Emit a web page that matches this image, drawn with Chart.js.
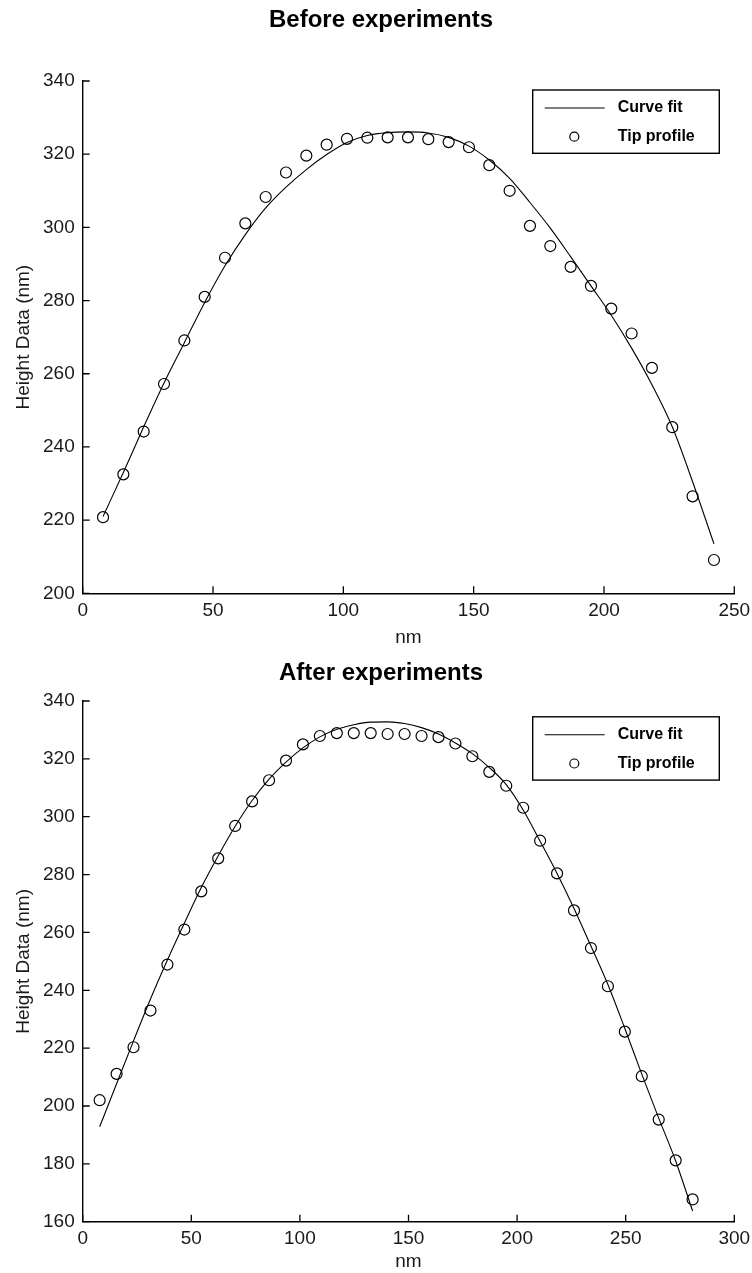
<!DOCTYPE html>
<html>
<head>
<meta charset="utf-8">
<script src="https://cdn.jsdelivr.net/npm/chart.js"></script>
<style>
  html, body { margin: 0; padding: 0; background: #fff; }
  #caja1 { position: absolute; left: 0; top: 0; width: 752px; height: 650px; }
  #caja2 { position: absolute; left: 0; top: 650px; width: 752px; height: 623px; }
</style>
</head>
<body>
<div id="caja1"><canvas id="graficoAntes"></canvas></div>
<div id="caja2"><canvas id="graficoDespues"></canvas></div>
<script>
// --- Before experiments ---
var xPuntosAntes = [7.8, 15.6, 23.4, 31.2, 39.0, 46.8, 54.6, 62.4, 70.2, 78.0, 85.8, 93.6, 101.4, 109.2, 117.0, 124.8,
                    132.6, 140.4, 148.2, 156.0, 163.8, 171.6, 179.4, 187.2, 195.0, 202.8, 210.6, 218.4, 226.2, 234.0, 242.2]
var puntosAntes = [220.8, 232.5, 244.2, 257.2, 269.1, 281.0, 291.7, 301.1, 308.3, 315.0, 319.6, 322.6, 324.2, 324.5, 324.6, 324.6,
                   324.1, 323.3, 321.9, 317.0, 310.0, 300.4, 294.9, 289.2, 284.0, 277.8, 271.0, 261.6, 245.4, 226.5, 209.1]
var xAjusteAntes = [7.8, 15.6, 23.4, 31.2, 39.0, 46.8, 54.6, 62.4, 70.2, 78.0, 85.8, 93.6, 101.4, 109.2, 117.0, 124.8,
                    132.6, 140.4, 148.2, 156.0, 163.8, 171.6, 179.4, 187.2, 195.0, 202.8, 210.6, 218.4, 226.2, 234.0, 242.2]
var ajusteAntes = [221.0, 233.0, 245.5, 257.5, 268.5, 279.5, 289.5, 298.0, 305.3, 311.0, 315.8, 319.9, 323.2, 325.1, 325.9, 326.1,
                   325.8, 324.6, 322.2, 318.4, 313.4, 306.8, 299.8, 292.0, 284.0, 276.0, 267.0, 257.0, 245.5, 230.5, 213.5]

// --- After experiments ---
var xPuntosDespues = [7.8, 15.6, 23.4, 31.2, 39.0, 46.8, 54.6, 62.4, 70.2, 78.0, 85.8, 93.6, 101.4, 109.2, 117.0, 124.8, 132.6, 140.4,
                      148.2, 156.0, 163.8, 171.6, 179.4, 187.2, 195.0, 202.8, 210.6, 218.4, 226.2, 234.0, 241.8, 249.6, 257.4, 265.2, 273.0, 280.8]
var puntosDespues = [202.0, 211.1, 220.3, 233.0, 248.9, 261.0, 274.2, 285.6, 296.8, 305.3, 312.6, 319.4, 325.0, 327.9, 328.9, 328.9, 328.9, 328.6,
                     328.6, 327.9, 327.5, 325.3, 320.9, 315.5, 310.7, 303.1, 291.7, 280.4, 267.6, 254.6, 241.4, 225.7, 210.3, 195.3, 181.2, 167.7]
var xAjusteDespues = [7.8, 15.6, 23.4, 31.2, 39.0, 46.8, 54.6, 62.4, 70.2, 78.0, 85.8, 93.6, 101.4, 109.2, 117.0, 124.8, 132.6, 140.4,
                      148.2, 156.0, 163.8, 171.6, 179.4, 187.2, 195.0, 202.8, 210.6, 218.4, 226.2, 234.0, 241.8, 249.6, 257.4, 265.2, 273.0, 280.8]
var ajusteDespues = [192.8, 207.7, 222.5, 237.0, 250.5, 263.2, 275.5, 286.5, 296.7, 305.6, 313.0, 318.9, 323.8, 327.6, 330.2, 331.8, 332.7, 332.8,
                     332.2, 330.8, 328.6, 325.5, 321.8, 317.0, 311.1, 302.3, 291.5, 280.4, 268.3, 255.3, 242.0, 226.8, 211.0, 195.8, 181.0, 163.7]

var etiquetaLinea = "Curve fit"
var etiquetaPuntos = "Tip profile"

var fuente = '"Liberation Sans", Arial, sans-serif'

function pares(xs, ys) {
    return xs.map((x, i) => ({x: x, y: ys[i]}))
}

// tick marks pointing into the plot, like the original figure
const ticksAdentro = {
    id: 'ticksAdentro',
    afterDraw(chart) {
        const ctx = chart.ctx, area = chart.chartArea
        const sx = chart.scales.x, sy = chart.scales.y
        ctx.save()
        ctx.strokeStyle = '#000'
        ctx.lineWidth = 1.3
        ctx.beginPath()
        sx.ticks.forEach(t => {
            const px = sx.getPixelForValue(t.value)
            ctx.moveTo(px, area.bottom)
            ctx.lineTo(px, area.bottom - 7)
        })
        sy.ticks.forEach(t => {
            const py = sy.getPixelForValue(t.value)
            ctx.moveTo(area.left, py)
            ctx.lineTo(area.left + 7, py)
        })
        ctx.stroke()
        ctx.restore()
    }
}

// boxed legend in the upper right corner
const leyendaCaja = {
    id: 'leyendaCaja',
    afterDraw(chart, args, opts) {
        const ctx = chart.ctx
        const x = opts.x, y = opts.y, w = opts.w, h = opts.h
        const ds = chart.data.datasets
        ctx.save()
        ctx.fillStyle = '#fff'
        ctx.fillRect(x, y, w, h)
        ctx.strokeStyle = '#000'
        ctx.lineWidth = 1.4
        ctx.strokeRect(x, y, w, h)

        ctx.lineWidth = 1.1
        ctx.beginPath()
        ctx.moveTo(x + 12, y + 18)
        ctx.lineTo(x + 72, y + 18)
        ctx.stroke()

        ctx.lineWidth = 1.2
        ctx.beginPath()
        ctx.arc(x + 41.6, y + 46.7, 4.5, 0, 2 * Math.PI)
        ctx.stroke()

        ctx.fillStyle = '#000'
        ctx.font = 'bold 16px ' + fuente
        ctx.textBaseline = 'middle'
        ctx.fillText(ds[0].label, x + 85, y + 18)
        ctx.fillText(ds[1].label, x + 85, y + 46.7)
        ctx.restore()
    }
}

function armaGrafico(idCanvas, cfg) {
    return new Chart(idCanvas, {
        type: 'scatter',
        data: {
            datasets: [{
                label: etiquetaLinea,
                data: pares(cfg.xAjuste, cfg.ajuste),
                showLine: true,
                borderColor: '#000',
                borderWidth: 1.1,
                pointRadius: 0,
                cubicInterpolationMode: 'monotone'
            }, {
                label: etiquetaPuntos,
                data: pares(cfg.xPuntos, cfg.puntos),
                showLine: false,
                pointStyle: 'circle',
                pointRadius: 5.5,
                pointBorderWidth: 1.2,
                pointBorderColor: '#000',
                pointBackgroundColor: 'rgba(0,0,0,0)'
            }]
        },
        plugins: [ticksAdentro, leyendaCaja],
        options: {
            responsive: true,
            maintainAspectRatio: false,
            animation: false,
            events: [],
            layout: {
                padding: {left: 10, right: 0, top: 0, bottom: 0}
            },
            scales: {
                x: {
                    type: 'linear',
                    min: 0,
                    max: cfg.xMax,
                    grid: {display: false, drawTicks: false},
                    border: {display: true, color: '#000', width: 1.4},
                    ticks: {
                        stepSize: 50,
                        padding: 6,
                        color: '#1a1a1a',
                        font: {family: fuente, size: 19}
                    },
                    title: {
                        display: true,
                        text: 'nm',
                        color: '#1a1a1a',
                        font: {family: fuente, size: 19},
                        padding: {top: 0, bottom: cfg.nmPad}
                    },
                    afterFit: function(scale) {
                        scale.height = cfg.altoEjeX
                        scale.paddingRight = 17.7
                    }
                },
                y: {
                    min: cfg.yMin,
                    max: 340,
                    grid: {display: false, drawTicks: false},
                    border: {display: true, color: '#000', width: 1.4},
                    ticks: {
                        stepSize: 20,
                        padding: 8,
                        color: '#1a1a1a',
                        font: {family: fuente, size: 19}
                    },
                    title: {
                        display: true,
                        text: 'Height Data (nm)',
                        color: '#1a1a1a',
                        font: {family: fuente, size: 19},
                        padding: {top: 2.6, bottom: 0}
                    },
                    afterFit: function(scale) { scale.width = 72.7 }
                }
            },
            plugins: {
                legend: {display: false},
                tooltip: {enabled: false},
                title: {
                    display: true,
                    text: cfg.titulo,
                    color: '#000',
                    font: {family: fuente, size: 24, weight: 'bold'},
                    padding: cfg.tituloPad
                },
                leyendaCaja: {x: 532.7, y: cfg.leyendaY, w: 186.6, h: 63.3}
            }
        }
    })
}

var graficoAntes = armaGrafico('graficoAntes', {
    titulo: 'Before experiments',
    xPuntos: xPuntosAntes, puntos: puntosAntes,
    xAjuste: xAjusteAntes, ajuste: ajusteAntes,
    xMax: 250, yMin: 200,
    tituloPad: {top: 5.9, bottom: 46.3},
    altoEjeX: 56.7, nmPad: 0.6,
    leyendaY: 90
})

var graficoDespues = armaGrafico('graficoDespues', {
    titulo: 'After experiments',
    xPuntos: xPuntosDespues, puntos: puntosDespues,
    xAjuste: xAjusteDespues, ajuste: ajusteDespues,
    xMax: 300, yMin: 160,
    tituloPad: {top: 8.6, bottom: 13.6},
    altoEjeX: 51.3, nmPad: 0,
    leyendaY: 66.8
})
</script>
</body>
</html>
